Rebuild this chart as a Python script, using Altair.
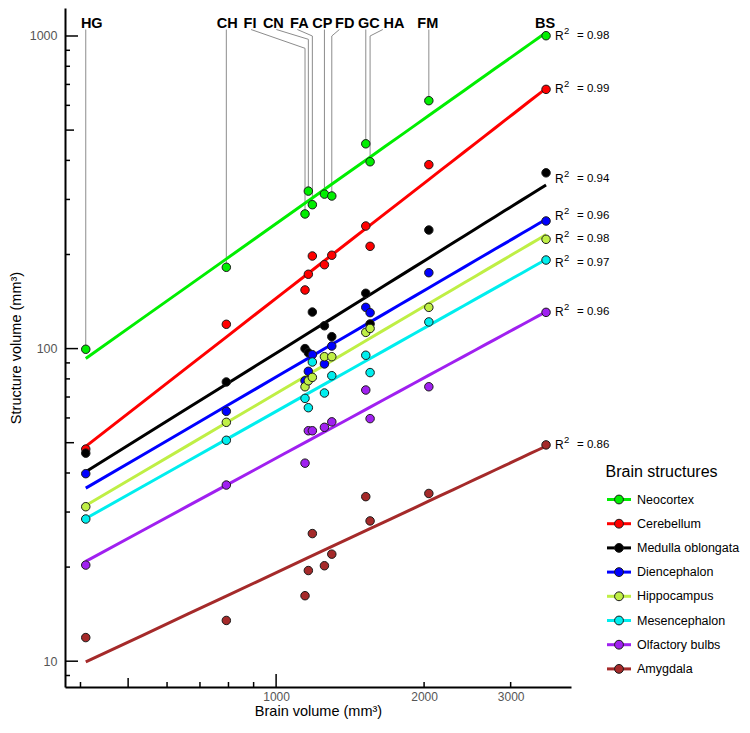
import altair as alt
import pandas as pd
import numpy as np

# ---------------- data ----------------
species = ["HG", "CH", "FI", "CN", "FA", "CP", "FD", "GC", "HA", "FM", "BS"]
brain_volume = [410, 792, 1145, 1163, 1185, 1254, 1298, 1522, 1553, 2045, 3541]

structures = ["Neocortex", "Cerebellum", "Medulla oblongata", "Diencephalon",
              "Hippocampus", "Mesencephalon", "Olfactory bulbs", "Amygdala"]
colors = ["#00EE00", "#FF0000", "#000000", "#0000FF",
          "#BFEF45", "#00EEEE", "#A020F0", "#A52A2A"]
r_squared = ["0.98", "0.99", "0.94", "0.96", "0.98", "0.97", "0.96", "0.86"]

neocortex = [99.5, 182, 269.6, 319, 288.6, 312, 307.7, 452, 396, 621, 1002]
cerebellum = [47.7, 119.6, 154, 172.9, 197.8, 185.5, 198.9, 246.7, 212.4, 387.6, 675]
medulla = [46.3, 78.2, 100, 97, 130.9, 118.3, 109.2, 150.3, 119.9, 239.5, 365]
diencephalon = [39.8, 63, 78.9, 84.6, 95.6, 89.3, 101.9, 135.5, 130.3, 174.9, 256]
hippocampus = [31.2, 58.1, 75.5, 78.9, 80.9, 94.2, 94.2, 112.7, 116, 135.5, 223.7]
mesencephalon = [28.5, 50.9, 69.3, 64.7, 90.6, 72.1, 81.9, 95.2, 83.8, 121.7, 192]
olfactory = [20.3, 36.6, 43, 54.6, 54.6, 56, 58.3, 73.7, 59.7, 75.5, 130.6]
amygdala = [11.9, 13.5, 16.2, 19.5, 25.6, 20.2, 22, 33.6, 28.1, 34.4, 49.2]

series = [neocortex, cerebellum, medulla, diencephalon,
          hippocampus, mesencephalon, olfactory, amygdala]

x_tick_labels = [1000, 2000, 3000]
y_tick_labels = [10, 100, 1000]
x_major = [1000]
x_mid = [500]
x_minor = [400, 600, 700, 800, 900, 2000, 3000]
y_major = [10, 100, 1000]
y_mid = [50, 500]
y_minor = [9, 20, 30, 40, 60, 70, 80, 90, 200, 300, 400, 600, 700, 800, 900]

# ---------------- tables ----------------
rows = []
for s, vals in zip(structures, series):
    for sp, b, v in zip(species, brain_volume, vals):
        rows.append({"structure": s, "species": sp, "brain": b, "volume": v})
df = pd.DataFrame(rows)

# ---------------- layout / style ----------------
W, H = 506, 679
X_DOM = [372, 3980]
Y_TOP = 1229
PPD_Y = 312.6
Y_DOM = [10 ** (np.log10(Y_TOP) - H / PPD_Y), Y_TOP]
ppd_x = W / np.log10(X_DOM[1] / X_DOM[0])
ppd_y = H / np.log10(Y_DOM[1] / Y_DOM[0])


def y_at(px):
    return 10 ** (np.log10(Y_DOM[1]) - px / ppd_y)


def x_shift(x, px):
    return x * 10 ** (px / ppd_x)


FONT = "Liberation Sans"
label_dx = {"HG": 6, "CH": 1, "FI": -55, "CN": -35, "FA": -13, "CP": -2,
            "FD": 13, "GC": 3, "HA": 24, "FM": -1, "BS": -1}
leader_dx = {"FI": -54, "CN": -32, "FA": -15, "FD": 7.6, "HA": 12.7}
leader_bend = {"FI": 40.3, "CN": 31.3, "FA": 28, "FD": 28, "HA": 28}
LEADER_TOP = 21.5
r2_nudge = {"Medulla oblongata": 6, "Diencephalon": -5, "Mesencephalon": 3}

top_vals = df.groupby("species")["volume"].max()
lab_rows = []
for sp, b in zip(species, brain_volume):
    lab_rows.append({
        "species": sp, "brain": b,
        "lab_x": x_shift(b, label_dx[sp]),
        "top": top_vals[sp],
        "bend": y_at(leader_bend.get(sp, LEADER_TOP)),
        "lead_x": x_shift(b, leader_dx.get(sp, 0)),
        "lead_top": y_at(LEADER_TOP),
        "angled": sp in leader_dx,
        "leader": sp != "BS",
    })
lab_df = pd.DataFrame(lab_rows)

r2_df = pd.DataFrame({
    "structure": structures,
    "brain": [brain_volume[-1]] * len(structures),
    "volume": [vals[-1] * 10 ** (-r2_nudge.get(s, 0) / ppd_y) for s, vals in zip(structures, series)],
    "eq": ["= " + r for r in r_squared],
})

xscale = alt.Scale(type="log", domain=X_DOM, nice=False)
yscale = alt.Scale(type="log", domain=Y_DOM, nice=False)

xaxis = alt.Axis(values=x_tick_labels, format="d", ticks=False, grid=False,
                 domainColor="black", domainWidth=2, labelColor="#555555",
                 labelFontSize=12, labelPadding=4, labelFont=FONT,
                 title="Brain volume (mm³)", titleFontSize=14.5, titleFontWeight="normal",
                 titleFont=FONT, titleColor="black", titlePadding=2)
yaxis = alt.Axis(values=y_tick_labels, format="d", ticks=False, grid=False,
                 domainColor="black", domainWidth=2, labelColor="#555555",
                 labelFontSize=12.5, labelPadding=8, labelFont=FONT,
                 title="Structure volume (mm³)", titleFontSize=14.5, titleFontWeight="normal",
                 titleFont=FONT, titleColor="black", titlePadding=6)


def X(field, **kw):
    return alt.X(field, scale=xscale, axis=xaxis, **kw)


def Y(field, **kw):
    return alt.Y(field, scale=yscale, axis=yaxis, **kw)


common_leg = dict(title="Brain structures", orient="none", legendX=540.5, legendY=456,
                  titleFontSize=16, titleFontWeight="normal", titleFont=FONT,
                  titleColor="black", labelFontSize=12.5, labelFont=FONT,
                  labelColor="black", rowPadding=4.2, titlePadding=6, labelOffset=4.5,
                  padding=0, labelLimit=300)

line_legend = alt.Legend(symbolType="stroke", symbolSize=576, symbolStrokeWidth=3,
                         zindex=1, **common_leg)
r = 0.34
circle_path = f"M {r},0 A {r},{r} 0 1,1 -{r},0 A {r},{r} 0 1,1 {r},0 Z"
point_legend = alt.Legend(symbolType=circle_path, symbolSize=676, symbolStrokeWidth=1,
                          symbolStrokeColor="#1a1a1a", titleOpacity=0, labelOpacity=0,
                          zindex=2, **common_leg)

# ---------------- layers ----------------
ticks_y = []
for vals, ln in [(y_major, 13), (y_mid, 9), (y_minor, 5)]:
    ticks_y.append(
        alt.Chart(pd.DataFrame({"volume": vals})).mark_rule(color="black", strokeWidth=1.5)
        .encode(y=Y("volume:Q"), x=alt.value(0), x2=alt.value(ln))
    )
ticks_x = []
for vals, ln in [(x_major, 13), (x_mid, 9), (x_minor, 5)]:
    ticks_x.append(
        alt.Chart(pd.DataFrame({"brain": vals})).mark_rule(color="black", strokeWidth=1.5)
        .encode(x=X("brain:Q"), y=alt.value(H), y2=alt.value(H - ln))
    )

leader_v = alt.Chart(lab_df).transform_filter("datum.leader").mark_rule(
    color="#8c8c8c", strokeWidth=1).encode(
    x=X("brain:Q"), y=Y("top:Q"), y2="bend:Q")

leader_a = alt.Chart(lab_df).transform_filter("datum.angled").mark_rule(
    color="#8c8c8c", strokeWidth=1).encode(
    x=X("brain:Q"), y=Y("bend:Q"), x2="lead_x:Q", y2="lead_top:Q")

species_text = alt.Chart(lab_df).mark_text(
    font=FONT, fontSize=14.5, fontWeight="bold", color="black",
    align="center", baseline="alphabetic").encode(
    x=X("lab_x:Q"), y=alt.value(20), text="species:N")

lines = alt.Chart(df).transform_regression(
    "brain", "volume", groupby=["structure"], method="pow").mark_line(
    strokeWidth=3).encode(
    x=X("brain:Q"), y=Y("volume:Q"),
    stroke=alt.Stroke("structure:N", scale=alt.Scale(domain=structures, range=colors),
                      legend=line_legend))

points = alt.Chart(df).mark_circle(size=72, opacity=1, stroke="#1a1a1a", strokeWidth=1).encode(
    x=X("brain:Q"), y=Y("volume:Q"),
    fill=alt.Fill("structure:N", sort=structures, scale=alt.Scale(range=colors),
                  legend=point_legend))

r_text = alt.Chart(r2_df).mark_text(font=FONT, fontSize=12, align="left",
                                    baseline="middle", dx=9, color="black").encode(
    x=X("brain:Q"), y=Y("volume:Q"), text=alt.value("R"))
sup_text = alt.Chart(r2_df).mark_text(font=FONT, fontSize=9.5, align="left",
                                      baseline="middle", dx=18, dy=-5, color="black").encode(
    x=X("brain:Q"), y=Y("volume:Q"), text=alt.value("2"))
eq_text = alt.Chart(r2_df).mark_text(font=FONT, fontSize=11.5, align="left",
                                     baseline="middle", dx=31, color="black").encode(
    x=X("brain:Q"), y=Y("volume:Q"), text="eq:N")

chart = alt.layer(
    *ticks_y, *ticks_x, leader_v, leader_a, lines, points,
    r_text, sup_text, eq_text, species_text
).properties(
    width=W, height=H,
    autosize=alt.AutoSizeParams(type="none"),
    padding={"left": 57, "top": 0, "right": 171, "bottom": 34},
).configure(font=FONT).configure_view(strokeWidth=0)

chart.save("out.html", embed_options={"renderer": "svg", "actions": False})
